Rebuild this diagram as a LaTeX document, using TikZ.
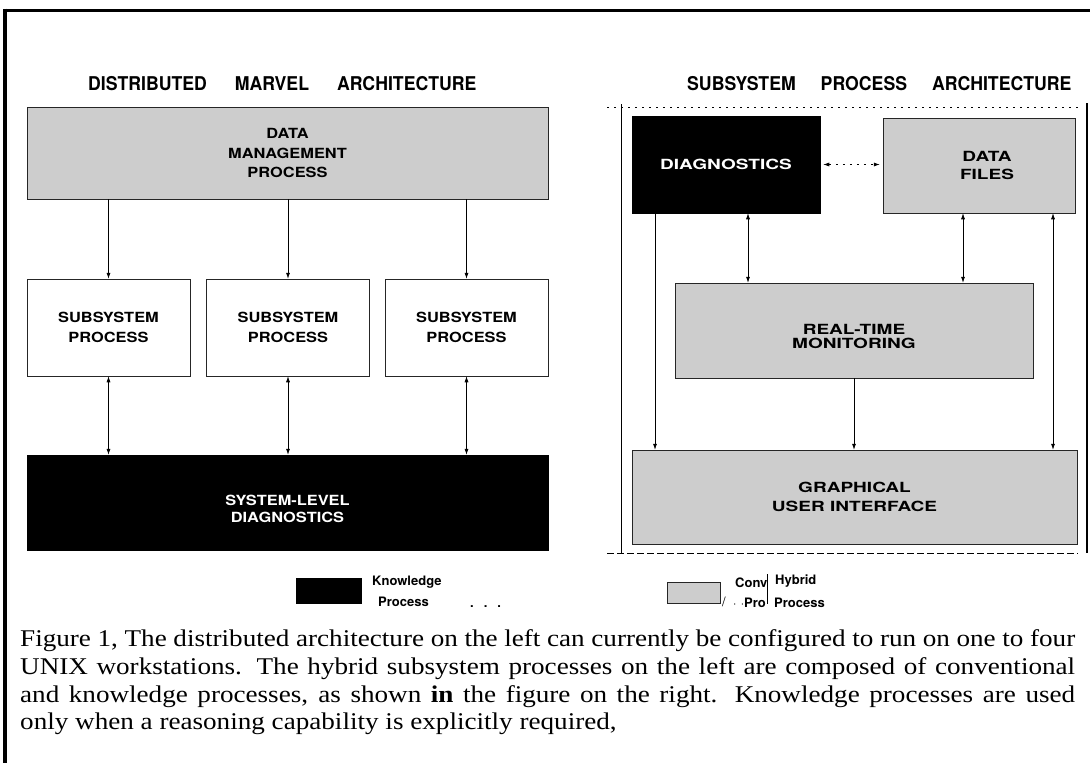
\documentclass[tikz,border=0pt]{standalone}
\usepackage{fontspec}
\setmainfont{Liberation Serif}
\setsansfont{TeX Gyre Heros}
\newfontfamily\capfont[FakeStretch=1.13]{Liberation Serif}
\newfontfamily\lblLfont[FakeStretch=1.17]{TeX Gyre Heros}
\newfontfamily\lblRfont[FakeStretch=1.36]{TeX Gyre Heros}
\newfontfamily\ttlfont[FakeStretch=0.93]{TeX Gyre Heros}
\usetikzlibrary{arrows.meta}
\definecolor{shade}{RGB}{205,205,205}
\begin{document}
\begin{tikzpicture}[x=1pt,y=-1pt,
  lblL/.style={font=\lblLfont\bfseries\fontsize{14}{19.5}\selectfont, align=center},
  lblR/.style={font=\lblRfont\bfseries\fontsize{14}{19}\selectfont, align=center},
  ttl/.style={font=\ttlfont\bfseries\fontsize{19}{22}\selectfont, anchor=base west, inner sep=0},
  leg/.style={font=\sffamily\bfseries\fontsize{13}{15}\selectfont, anchor=base west, inner sep=0},
  captext/.style={font=\capfont\fontsize{24}{28}\selectfont, anchor=base west, inner sep=0},
  box/.style={draw=black!85, line width=0.5pt, inner sep=0},
  graybox/.style={box, fill=shade},
  whitebox/.style={box, fill=white},
  blackbox/.style={box, draw=black, fill=black, text=white},
  tip/.tip={Latex[length=6pt,width=4pt]},
  conn/.style={line width=0.6pt, -tip},
  dconn/.style={line width=0.6pt, tip-tip},
]
\useasboundingbox (0,0) rectangle (1090,763);
\fill[white] (0,0) rectangle (1090,763);
% outer frame
\draw[line width=3pt] (3.5,10) -- (1090,10);
\draw[line width=4pt] (5,8.5) -- (5,763);

% titles
\node[ttl] (t1) at (88,90) {DISTRIBUTED\hspace{28pt}MARVEL\hspace{28pt}ARCHITECTURE};
\node[ttl] (t2) at (687,90) {SUBSYSTEM\hspace{25pt}PROCESS\hspace{25pt}ARCHITECTURE};

% left diagram
\node[graybox, lblL, minimum width=521, minimum height=92] (dm) at (287.5,153) {DATA\\MANAGEMENT\\PROCESS};
\node[whitebox, lblL, minimum width=163, minimum height=97] (s1) at (108.5,327.5) {SUBSYSTEM\\PROCESS};
\node[whitebox, lblL, minimum width=163, minimum height=97] (s2) at (288,327.5) {SUBSYSTEM\\PROCESS};
\node[whitebox, lblL, minimum width=163, minimum height=97] (s3) at (466.5,327.5) {SUBSYSTEM\\PROCESS};
\node[blackbox, minimum width=521, minimum height=95] (sl) at (287.5,502.5) {};
\node[lblL, text=white, font=\lblLfont\bfseries\fontsize{14}{17}\selectfont] (slt) at ([yshift=-6]sl.center) {SYSTEM-LEVEL\\DIAGNOSTICS};
\foreach \s in {s1,s2,s3}{
  \draw[conn] (\s |- dm.south) -- (\s.north);
  \draw[dconn] (\s.south) -- (\s |- sl.north);
}

% right diagram frame
\draw[line width=0.5pt, dash pattern=on 2pt off 5pt] (607,107) -- (1078,107);
\draw[line width=0.6pt] (621,104) -- (621,553);
\draw[line width=0.5pt, dash pattern=on 7pt off 3pt] (607,553) -- (1078,553);
\draw[line width=2.5pt] (1087,103) -- (1087,553);

% right diagram
\node[blackbox, lblR, minimum width=188, minimum height=97] (dg) at (726,164.5) {DIAGNOSTICS};
\node[graybox, lblR, minimum width=192, minimum height=95, font=\lblRfont\bfseries\fontsize{14}{18}\selectfont] (df) at (979,165.5) {\hspace*{16pt}DATA\\\hspace*{16pt}FILES};
\node[graybox, minimum width=358, minimum height=95] (rt) at (854,330.5) {};
\node[lblR, font=\lblRfont\bfseries\fontsize{14}{14}\selectfont] (rtt) at ([yshift=-6]rt.center) {REAL-TIME\\MONITORING};
\node[graybox, lblR, minimum width=445, minimum height=94] (gui) at (854.5,497) {GRAPHICAL\\USER INTERFACE};

\draw[line width=0.6pt, dash pattern=on 2pt off 5pt, tip-tip] ([xshift=3pt]dg.east) -- ([xshift=-3pt]dg.east -| df.west);
\draw[dconn] ([xshift=22pt]dg.south) -- ([xshift=22pt]dg.south |- rt.north);
\draw[dconn] ([xshift=-16pt]df.south) -- ([xshift=-16pt]df.south |- rt.north);
\draw[conn] ([xshift=-71pt]dg.south) -- ([xshift=-71pt]dg.south |- gui.north);
\draw[conn] (rt.south) -- (rt.south |- gui.north);
\draw[dconn] ([xshift=74pt]df.south) -- ([xshift=74pt]df.south |- gui.north);

% legend
\node[fill=black, minimum width=66, minimum height=26, inner sep=0] (kb) at (329,591) {};
\node[leg] (kt1) at (372,585) {Knowledge};
\node[leg] (kt2) at (378,606) {Process};
\node[leg] (dots) at (470,607) {.\hspace{10pt}.\hspace{10pt}.};
\node[draw=black!85, line width=0.5pt, fill=shade, minimum width=53, minimum height=21, inner sep=0] (gb) at (693.5,592.5) {};
\node[leg, font=\sffamily\fontsize{13}{15}\selectfont] (sl1) at (722,606) {/};
\node[leg] (ct1) at (735,587) {Conv};
\node[leg] (ct2) at (733,607) {$\cdot$\,\,$\cdot$Pro};
\draw[line width=0.6pt] (767,574) -- (767,604);
\node[leg] (ht1) at (775,584) {Hybrid};
\node[leg] (ht2) at (774,607) {Process};

% caption
\node[captext] (c1) at (20,646) {\makebox[1055pt][s]{Figure 1, The distributed architecture on the left can currently be configured to run on one to four}};
\node[captext] (c2) at (20,674) {\makebox[1055pt][s]{UNIX workstations. The hybrid subsystem processes on the left are composed of conventional}};
\node[captext] (c3) at (20,702) {\makebox[1055pt][s]{and knowledge processes, as shown \textbf{in} the figure on the right. Knowledge processes are used}};
\node[captext] (c4) at (20,729) {only when a reasoning capability is explicitly required,};
\end{tikzpicture}
\end{document}
